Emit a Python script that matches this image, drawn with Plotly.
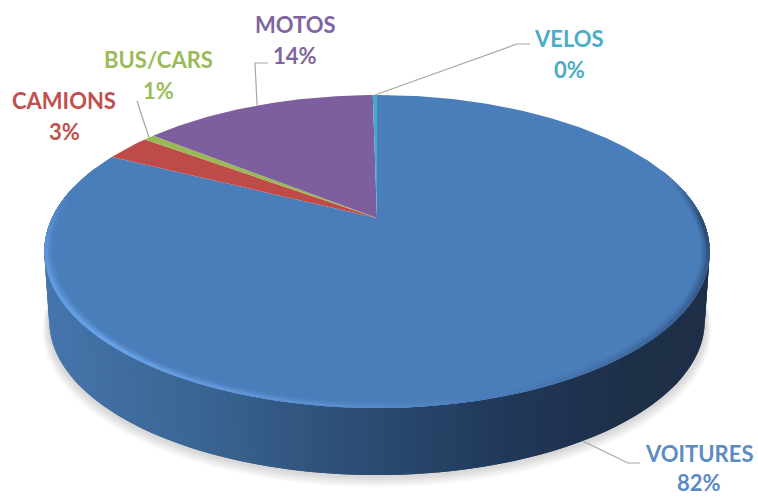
import numpy as np
import plotly.graph_objects as go

categories = ["VOITURES", "CAMIONS", "BUS/CARS", "MOTOS", "VELOS"]
values = [82.4, 2.7, 0.65, 14.0, 0.25]
slice_colors = ["#4a7ebb", "#be4b48", "#98b954", "#7d5fa0", "#46aac5"]
text_colors = ["#5b8ac4", "#c0504d", "#9bbb59", "#8064a2", "#4bacc6"]

W, H = 758, 497
X0, Y0, A, B, K = 377, 218, 325, 149.3, 0.214
DEPTH, SHRINK = 70, 0.985


def project(theta, r=1.0, drop=0.0, sx=1.0):
    c = r * np.cos(theta)
    s = r * np.sin(theta)
    w = 1 + K * c
    return X0 + sx * A * s / w, Y0 - sx * B * c / w + drop


def poly(xs, ys, color):
    return go.Scatter(x=list(xs), y=list(ys), mode="lines", fill="toself", fillcolor=color,
                      line=dict(color=color, width=0), hoverinfo="skip", showlegend=False)


def hex_rgb(h):
    return np.array([int(h[i:i + 2], 16) for i in (1, 3, 5)], float)


def ramp(pos, stops):
    ps = [p for p, _ in stops]
    cs = np.array([hex_rgb(c) for _, c in stops])
    return np.array([np.interp(pos, ps, cs[:, i]) for i in range(3)])


def css(rgb):
    return "rgb(%d,%d,%d)" % tuple(rgb)


side_stops = [(45, "#4676ae"), (200, "#3a6592"), (380, "#2a4a70"), (500, "#21395a"), (620, "#1f3049"), (710, "#1e2f47")]
rim_stops = [(75, "#4a7ebb"), (92, "#2b4a70"), (108, "#365a8a"), (135, "#3f689c"), (160, "#4a7ab5"),
             (185, "#5b8ccb"), (225, "#69a3e8"), (262, "#5a93d8"), (282, "#4a7ebb")]

traces = []

# soft shadow below the body
arc = np.radians(np.linspace(70, 290, 160))
for d in [8, 6.5, 5, 3.5, 2]:
    sx, sy = project(arc, drop=DEPTH + d, sx=SHRINK + d / 400)
    traces.append(poly(sx, sy, "rgba(0,0,0,0.03)"))

# side wall, each strip overlapping the next so no seams show
edges = np.radians(np.linspace(70, 290, 221))
step = edges[1] - edges[0]
for t0 in edges[:-1]:
    pair = np.array([t0, t0 + 2 * step])
    xa, ya = project(pair)
    xb, yb = project(pair[::-1], drop=DEPTH, sx=SHRINK)
    traces.append(poly(np.r_[xa, xb], np.r_[ya, yb], css(ramp((xa.mean() + xb.mean()) / 2, side_stops))))

# top face slices
total = sum(values)
bounds = np.r_[0, np.cumsum(values)] / total * 2 * np.pi
mids = (bounds[:-1] + bounds[1:]) / 2
for i, col in enumerate(slice_colors):
    th = np.linspace(bounds[i], bounds[i + 1], max(3, int(values[i] * 6)))
    px, py = project(th)
    traces.append(poly(np.r_[X0, px, X0], np.r_[Y0, py, Y0], col))

# bevel on the front rim
base = hex_rgb("#4a7ebb")
rim = np.radians(np.linspace(75, 282, 171))
rstep = rim[1] - rim[0]
for r0, r1, mix in [(0.976, 1.0, 0.25), (0.983, 1.0, 0.55), (0.990, 1.0, 1.0)]:
    for t0 in rim[:-1]:
        pair = np.array([t0, t0 + 2 * rstep])
        xo, yo = project(pair, r=r1)
        xi, yi = project(pair[::-1], r=r0)
        rgb = ramp(np.degrees(t0 + rstep), rim_stops)
        traces.append(poly(np.r_[xo, xi], np.r_[yo, yi], css(base + (rgb - base) * mix)))

# label anchors: (text x, name y, percent y, elbow x, elbow y)
labels = {
    "VOITURES": (699, 453, 482, 628, 463),
    "CAMIONS": (64, 100, 131, None, None),
    "BUS/CARS": (158, 59, 90, 137, 101),
    "MOTOS": (295, 24, 55, 255, 63),
    "VELOS": (569, 38, 69, 517, 44),
}
end_x = {"VOITURES": 640, "MOTOS": 268, "VELOS": 530}

annotations = []
for i, name in enumerate(categories):
    tx, ty, py2, ex, ey = labels[name]
    if ex is not None:
        drop = DEPTH if name == "VOITURES" else 0
        sc = SHRINK if name == "VOITURES" else 1.0
        sx0, sy0 = project(mids[i], drop=drop, sx=sc)
        lx, ly = [float(sx0), ex], [float(sy0), ey]
        if name in end_x:
            lx.append(end_x[name])
            ly.append(ey)
        traces.append(go.Scatter(x=lx, y=ly, mode="lines", line=dict(color="#a6a6a6", width=1.2),
                                 hoverinfo="skip", showlegend=False))
    annotations.append(dict(x=tx, y=ty, xref="x", yref="y", text=f"<b>{name}</b>", showarrow=False,
                            font=dict(family="Lato", size=22, color=text_colors[i])))
    annotations.append(dict(x=tx, y=py2, xref="x", yref="y", text=f"<b>{round(values[i] / total * 100)}%</b>",
                            showarrow=False, font=dict(family="Lato", size=22, color=text_colors[i])))

fig = go.Figure(traces)
fig.update_layout(
    width=W, height=H, margin=dict(l=0, r=0, t=0, b=0), paper_bgcolor="white", plot_bgcolor="white",
    xaxis=dict(range=[0, W], visible=False, fixedrange=True),
    yaxis=dict(range=[H, 0], visible=False, fixedrange=True),
    annotations=annotations, showlegend=False,
)
fig.write_html("out.html", config={"displayModeBar": False},
               post_script="document.body.style.margin='0';document.documentElement.style.overflow='hidden';")
